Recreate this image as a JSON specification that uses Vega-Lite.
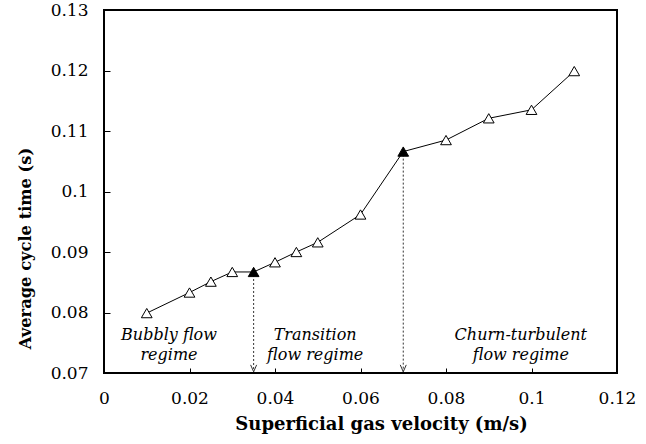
{
  "$schema": "https://vega.github.io/schema/vega-lite/v6.json",
  "width": 513,
  "height": 363,
  "autosize": "none",
  "padding": {"left": 104, "top": 10, "right": 29, "bottom": 71},
  "background": "white",
  "config": {
    "view": {"stroke": "black", "strokeWidth": 2}
  },
  "datasets": {
    "pts": [
      {"v": 0.01, "t": 0.0799, "kind": "open"},
      {"v": 0.02, "t": 0.0833, "kind": "open"},
      {"v": 0.025, "t": 0.0851, "kind": "open"},
      {"v": 0.03, "t": 0.0867, "kind": "open"},
      {"v": 0.035, "t": 0.0867, "kind": "filled"},
      {"v": 0.04, "t": 0.0883, "kind": "open"},
      {"v": 0.045, "t": 0.09, "kind": "open"},
      {"v": 0.05, "t": 0.0916, "kind": "open"},
      {"v": 0.06, "t": 0.0962, "kind": "open"},
      {"v": 0.07, "t": 0.1066, "kind": "filled"},
      {"v": 0.08, "t": 0.1085, "kind": "open"},
      {"v": 0.09, "t": 0.1121, "kind": "open"},
      {"v": 0.1, "t": 0.1135, "kind": "open"},
      {"v": 0.11, "t": 0.1199, "kind": "open"}
    ],
    "arrows": [
      {"v": 0.035, "top": 0.0862, "bottom": 0.0702},
      {"v": 0.07, "top": 0.1061, "bottom": 0.0702}
    ],
    "labels": [
      {"v": 0.0152, "t": 0.0763, "txt": "Bubbly flow"},
      {"v": 0.0152, "t": 0.0729, "txt": "regime"},
      {"v": 0.0494, "t": 0.0763, "txt": "Transition"},
      {"v": 0.0494, "t": 0.0729, "txt": "flow regime"},
      {"v": 0.0975, "t": 0.0763, "txt": "Churn-turbulent"},
      {"v": 0.0975, "t": 0.0729, "txt": "flow regime"}
    ]
  },
  "layer": [
    {
      "data": {"name": "arrows"},
      "mark": {"type": "rule", "stroke": "#333", "strokeWidth": 1, "strokeDash": [2, 2]},
      "encoding": {
        "x": {"field": "v", "type": "quantitative", "scale": {"domain": [0, 0.12]},
          "axis": {"title": "Superficial gas velocity (m/s)", "values": [0, 0.02, 0.04, 0.06, 0.08, 0.1, 0.12], "format": ".2~f",
            "grid": false, "domain": false, "tickSize": -5, "tickColor": "black", "labelPadding": 22,
            "labelFont": "DejaVu Serif", "labelFontSize": 17, "labelColor": "black",
            "titleFont": "DejaVu Serif", "titleFontSize": 18, "titleFontWeight": "bold", "titleColor": "black",
            "titleX": 277, "titleY": 51, "titleBaseline": "middle", "titleAlign": "center",
            "labelFlush": false, "labelOverlap": false}},
        "y": {"field": "top", "type": "quantitative", "scale": {"domain": [0.07, 0.13]},
          "axis": {"title": "Average cycle time (s)", "values": [0.07, 0.08, 0.09, 0.1, 0.11, 0.12, 0.13], "format": ".2~f",
            "grid": false, "domain": false, "tickSize": -6, "tickColor": "black", "labelPadding": 22,
            "labelFont": "DejaVu Serif", "labelFontSize": 17, "labelColor": "black",
            "titleFont": "DejaVu Serif", "titleFontSize": 16.3, "titleFontWeight": "bold", "titleColor": "black",
            "titleX": -79, "titleY": 238, "titleBaseline": "middle", "titleAlign": "center", "titleAngle": -90,
            "labelFlush": false, "labelOverlap": false}},
        "y2": {"field": "bottom"}
      }
    },
    {
      "data": {"name": "arrows"},
      "mark": {"type": "point", "shape": "M-1,-2.3L0,0L1,-2.3", "size": 36, "filled": false, "stroke": "#333", "strokeWidth": 1, "opacity": 1},
      "encoding": {
        "x": {"field": "v", "type": "quantitative"},
        "y": {"field": "bottom", "type": "quantitative"}
      }
    },
    {
      "data": {"name": "pts"},
      "mark": {"type": "line", "color": "black", "strokeWidth": 1},
      "encoding": {
        "x": {"field": "v", "type": "quantitative"},
        "y": {"field": "t", "type": "quantitative"}
      }
    },
    {
      "data": {"name": "pts"},
      "mark": {"type": "point", "shape": "triangle-up", "size": 115, "filled": true, "stroke": "black", "strokeWidth": 1, "opacity": 1},
      "encoding": {
        "x": {"field": "v", "type": "quantitative"},
        "y": {"field": "t", "type": "quantitative"},
        "fill": {"field": "kind", "type": "nominal", "scale": {"domain": ["open", "filled"], "range": ["white", "black"]}, "legend": null}
      }
    },
    {
      "data": {"name": "labels"},
      "mark": {"type": "text", "font": "DejaVu Serif", "fontStyle": "italic", "fontSize": 16, "color": "black", "align": "center", "baseline": "middle"},
      "encoding": {
        "x": {"field": "v", "type": "quantitative"},
        "y": {"field": "t", "type": "quantitative"},
        "text": {"field": "txt"}
      }
    }
  ]
}
